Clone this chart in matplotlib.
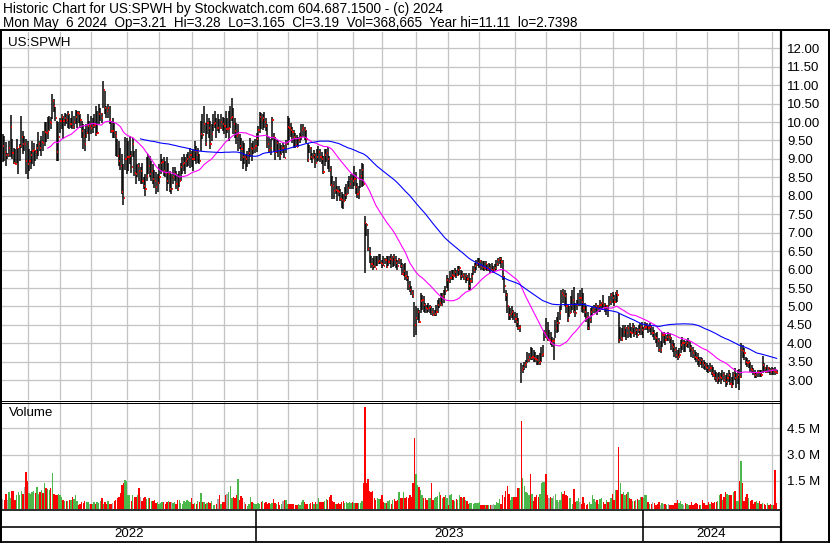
import numpy as np
import pandas as pd
import matplotlib
matplotlib.use("Agg")
import matplotlib.pyplot as plt
from matplotlib.transforms import blended_transform_factory, offset_copy

plt.rcParams['font.family'] = ['Liberation Sans', 'DejaVu Sans']

HOLIDAYS = ["2022-05-30", "2022-06-20", "2022-07-04", "2022-09-05", "2022-11-24", "2022-12-26",
            "2023-01-02", "2023-01-16", "2023-02-20", "2023-04-07", "2023-05-29", "2023-06-19",
            "2023-07-04", "2023-09-04", "2023-11-23", "2023-12-25", "2024-01-01", "2024-01-15",
            "2024-02-19", "2024-03-29"]

high = [
    # May 2022
    9.67, 9.62, 9.45, 9.17, 9.49, 10.19, 9.55, 9.31, 9.26, 9.53, 9.31, 9.40, 10.16, 9.76, 9.62, 9.53,
    # Jun 2022
    9.49, 9.26, 9.22, 9.49, 9.44, 9.24, 9.40, 9.72, 9.49, 9.62, 9.76, 9.99, 9.99, 10.13, 10.17, 10.13, 10.77, 10.63, 10.40, 10.04, 9.99,
    # Jul 2022
    10.12, 10.21, 10.16, 10.25, 10.21, 10.30, 10.21, 10.12, 10.30, 10.16, 10.34, 10.30, 10.30, 10.21, 10.03, 9.94, 9.80, 9.94, 10.21, 10.03,
    # Aug 2022
    10.16, 10.12, 10.21, 10.43, 10.30, 10.48, 10.39, 10.25, 11.11, 10.84, 10.43, 10.48, 10.43, 10.03, 10.12, 9.98, 9.76, 9.53, 9.49, 9.30, 9.13, 8.85, 9.60,
    # Sep 2022
    9.58, 9.49, 9.62, 9.22, 9.58, 9.22, 9.26, 8.86, 8.90, 8.77, 8.90, 8.50, 8.59, 9.04, 9.13, 9.08, 8.95, 8.86, 8.70, 8.65, 8.60,
    # Oct 2022
    8.86, 9.13, 8.99, 9.04, 8.95, 9.04, 8.90, 8.68, 8.59, 8.77, 8.77, 8.68, 8.59, 8.68, 8.90, 9.04, 9.13, 9.04, 9.13, 9.20, 9.30,
    # Nov 2022
    9.22, 9.26, 9.49, 9.35, 9.31, 9.13, 10.03, 10.21, 10.43, 9.98, 10.21, 10.12, 10.03, 9.94, 10.21, 10.30, 10.12, 10.21, 10.07, 10.21, 10.15,
    # Dec 2022
    10.12, 10.30, 10.12, 10.30, 10.43, 10.64, 10.39, 10.12, 9.98, 9.94, 9.67, 9.58, 9.49, 9.44, 9.13, 9.22, 9.31, 9.58, 9.44, 9.49, 9.53,
    # Jan 2023
    9.70, 9.90, 10.28, 10.25, 10.22, 10.28, 10.10, 9.95, 9.60, 9.55, 10.14, 9.69, 9.60, 9.51, 9.51, 9.42, 9.38, 9.42, 9.38, 9.51,
    # Feb 2023
    10.16, 10.10, 9.97, 9.87, 9.78, 9.69, 9.65, 9.60, 9.69, 9.94, 9.94, 9.87, 9.78, 9.42, 9.38, 9.33, 9.15, 9.25, 9.15,
    # Mar 2023
    9.27, 9.36, 9.27, 9.18, 9.09, 9.27, 9.27, 9.32, 9.09, 8.82, 8.55, 8.41, 8.50, 8.27, 8.27, 8.18, 8.09, 8.05, 8.23, 8.32, 8.41, 8.55, 8.59,
    # Apr 2023
    8.59, 8.82, 8.64, 8.36, 8.27, 8.73, 8.90, 8.86, 7.44, 7.27, 7.09, 6.60, 6.36, 6.32, 6.36, 6.36, 6.36, 6.41, 6.41,
    # May 2023
    6.27, 6.36, 6.32, 6.36, 6.36, 6.36, 6.41, 6.38, 6.41, 6.36, 6.27, 6.32, 6.28, 6.18, 6.14, 6.18, 5.95, 5.82, 5.68, 5.55, 5.45, 5.11,
    # Jun 2023
    5.00, 4.95, 4.91, 5.36, 5.32, 5.27, 5.09, 5.05, 5.09, 5.05, 5.00, 4.95, 4.91, 5.05, 5.18, 5.23, 5.36, 5.36, 5.45, 5.55, 5.86,
    # Jul 2023
    5.77, 5.95, 6.00, 6.00, 6.05, 6.00, 6.09, 6.09, 6.00, 5.95, 5.91, 5.91, 5.86, 5.91, 5.77, 5.91, 6.09, 6.18, 6.27, 6.32,
    # Aug 2023
    6.32, 6.27, 6.23, 6.23, 6.23, 6.14, 6.18, 6.14, 6.18, 6.09, 6.14, 6.25, 6.32, 6.35, 6.34, 6.27, 5.82, 5.45, 5.36, 5.00, 4.95, 5.00, 4.91,
    # Sep 2023
    4.86, 4.81, 4.68, 4.50, 3.46, 3.41, 3.50, 3.55, 3.77, 3.73, 3.91, 3.86, 3.82, 3.77, 3.68, 3.68, 3.73, 3.91, 3.95, 4.36,
    # Oct 2023
    4.68, 4.59, 4.36, 4.32, 4.18, 4.14, 4.63, 4.72, 4.86, 5.00, 5.45, 5.47, 5.45, 5.36, 5.04, 5.00, 5.27, 5.45, 5.52, 5.09, 5.18, 5.36,
    # Nov 2023
    5.45, 5.49, 5.36, 5.09, 5.00, 4.86, 4.72, 4.95, 5.00, 5.04, 5.09, 5.04, 5.04, 5.18, 5.13, 5.31, 5.09, 5.04, 5.00, 5.27, 5.36,
    # Dec 2023
    5.40, 5.31, 5.40, 5.45, 4.81, 4.45, 4.41, 4.50, 4.50, 4.45, 4.50, 4.54, 4.45, 4.54, 4.50, 4.45, 4.41, 4.50, 4.54, 4.59,
    # Jan 2024
    4.45, 4.59, 4.54, 4.50, 4.54, 4.50, 4.45, 4.36, 4.27, 4.32, 4.14, 4.05, 4.32, 4.32, 4.27, 4.23, 4.32, 4.27, 4.18, 4.09, 4.00,
    # Feb 2024
    3.91, 3.82, 3.86, 4.09, 4.18, 4.09, 4.05, 4.09, 4.14, 4.05, 3.95, 3.91, 3.82, 3.77, 3.73, 3.64, 3.64, 3.59, 3.55, 3.50,
    # Mar 2024
    3.46, 3.41, 3.46, 3.41, 3.37, 3.28, 3.23, 3.19, 3.23, 3.19, 3.28, 3.23, 3.14, 3.19, 3.28, 3.19, 3.09, 3.23, 3.32, 3.19,
    # Apr 2024
    3.28, 3.30, 4.00, 3.95, 3.86, 3.64, 3.59, 3.55, 3.50, 3.41, 3.32, 3.28, 3.23, 3.28, 3.28, 3.28, 3.66, 3.46, 3.37, 3.41, 3.37, 3.32,
    # May 2024
    3.37, 3.32, 3.35, 3.28,
]

low = [
    8.93, 8.95, 8.81, 8.99, 9.04, 9.04, 8.99, 8.86, 8.86, 8.90, 8.59, 8.95, 9.31, 9.13, 9.22, 8.60,
    8.45, 8.68, 8.72, 8.86, 8.81, 8.95, 8.99, 9.08, 9.22, 9.08, 9.22, 9.36, 9.45, 9.53, 9.76, 9.81, 10.08, 10.26, 10.04, 8.95, 8.95,
    9.71, 9.80, 9.53, 9.89, 9.94, 9.85, 9.80, 9.85, 9.80, 9.80, 9.94, 9.85, 9.98, 9.85, 9.58, 9.26, 9.22, 9.58, 9.67, 9.49,
    9.67, 9.71, 9.85, 9.62, 9.67, 9.94, 10.03, 9.98, 10.39, 10.21, 10.12, 10.12, 9.94, 9.71, 9.58, 9.58, 9.08, 9.04, 8.81, 8.70, 8.05, 7.76, 8.70,
    8.59, 8.68, 8.86, 8.63, 9.04, 8.54, 8.32, 8.50, 8.41, 8.32, 8.32, 8.18, 8.00, 8.41, 8.59, 8.50, 8.41, 8.32, 8.20, 8.05, 8.10,
    8.32, 8.59, 8.68, 8.54, 8.50, 8.14, 8.32, 8.10, 8.05, 8.32, 8.41, 8.18, 8.14, 8.23, 8.41, 8.59, 8.68, 8.59, 8.77, 8.80, 8.75,
    8.77, 8.68, 8.95, 8.86, 8.90, 8.86, 9.22, 9.53, 9.71, 9.35, 9.67, 9.58, 9.26, 9.49, 9.76, 9.85, 9.58, 9.76, 9.71, 9.80, 9.75,
    9.67, 9.58, 9.71, 9.49, 9.85, 10.03, 9.67, 9.58, 9.40, 9.22, 9.26, 8.95, 8.72, 8.86, 8.68, 8.77, 8.86, 9.04, 8.95, 9.13, 9.17,
    9.20, 9.35, 9.70, 9.80, 9.78, 9.85, 9.75, 9.30, 9.15, 9.10, 9.51, 9.20, 8.97, 9.15, 9.06, 8.97, 9.11, 9.15, 9.02, 9.15,
    9.38, 9.51, 9.60, 9.42, 9.29, 9.29, 9.33, 9.33, 9.42, 9.51, 9.60, 9.51, 9.42, 8.93, 9.15, 8.97, 8.88, 9.02, 8.75,
    8.91, 8.95, 8.91, 8.86, 8.59, 8.82, 8.91, 8.73, 8.64, 8.27, 7.91, 7.91, 8.05, 7.86, 8.00, 7.86, 7.68, 7.64, 7.86, 7.91, 8.05, 8.18, 8.18,
    8.18, 8.27, 8.05, 7.95, 7.91, 8.20, 8.23, 8.27, 5.91, 6.91, 6.50, 6.18, 6.05, 6.00, 6.05, 6.09, 6.10, 6.14, 6.14,
    6.05, 6.09, 6.14, 6.05, 6.09, 6.14, 6.05, 6.07, 6.09, 6.05, 6.00, 6.14, 6.05, 5.86, 5.82, 5.73, 5.68, 5.45, 5.40, 5.30, 5.22, 4.16,
    4.23, 4.64, 4.55, 4.82, 4.91, 4.86, 4.82, 4.82, 4.86, 4.82, 4.77, 4.73, 4.73, 4.73, 4.82, 4.95, 5.00, 5.00, 5.09, 5.32, 5.50,
    5.41, 5.64, 5.73, 5.73, 5.82, 5.77, 5.82, 5.86, 5.73, 5.77, 5.73, 5.64, 5.68, 5.45, 5.45, 5.64, 5.86, 5.91, 6.00, 6.09,
    6.05, 6.00, 6.00, 5.95, 6.00, 5.95, 5.95, 5.91, 5.95, 5.91, 5.95, 6.00, 6.10, 6.15, 6.05, 5.73, 5.36, 5.14, 4.82, 4.64, 4.64, 4.68, 4.64,
    4.55, 4.45, 4.36, 4.32, 2.93, 3.19, 3.28, 3.32, 3.46, 3.50, 3.55, 3.55, 3.50, 3.50, 3.41, 3.41, 3.41, 3.50, 3.64, 4.05,
    4.14, 4.05, 4.05, 3.95, 3.91, 3.55, 4.14, 4.27, 4.32, 4.63, 4.90, 5.09, 5.00, 4.81, 4.59, 4.72, 4.81, 4.90, 4.81, 4.72, 4.90, 5.00,
    5.00, 4.86, 4.81, 4.72, 4.59, 4.36, 4.36, 4.54, 4.77, 4.81, 4.81, 4.77, 4.86, 4.86, 4.90, 4.95, 4.86, 4.77, 4.72, 5.00, 5.04,
    5.09, 5.00, 5.09, 5.13, 4.00, 4.05, 4.05, 4.18, 4.18, 4.09, 4.14, 4.18, 4.14, 4.27, 4.18, 4.23, 4.14, 4.27, 4.23, 4.23,
    4.14, 4.36, 4.36, 4.27, 4.32, 4.23, 4.18, 4.09, 4.00, 3.91, 3.77, 3.73, 3.91, 4.00, 3.95, 4.05, 4.05, 4.00, 3.82, 3.77, 3.64,
    3.59, 3.55, 3.59, 3.73, 3.82, 3.77, 3.77, 3.91, 3.86, 3.77, 3.64, 3.59, 3.55, 3.50, 3.41, 3.37, 3.41, 3.32, 3.30, 3.28,
    3.23, 3.19, 3.23, 3.14, 3.09, 3.00, 2.96, 2.91, 2.96, 2.91, 3.00, 2.96, 2.82, 2.87, 2.96, 2.87, 2.78, 2.87, 3.00, 2.78,
    2.90, 2.74, 3.05, 3.59, 3.55, 3.41, 3.37, 3.32, 3.23, 3.19, 3.14, 3.05, 3.05, 3.09, 3.09, 3.09, 3.19, 3.23, 3.19, 3.19, 3.19, 3.14,
    3.14, 3.15, 3.15, 3.165,
]

close = [
    9.35, 9.20, 9.10, 9.10, 9.30, 9.86, 9.15, 8.90, 8.87, 9.30, 9.33, 9.35, 9.60, 9.40, 9.40, 8.95,
    8.85, 8.95, 9.10, 9.22, 9.24, 9.20, 9.31, 9.40, 9.31, 9.45, 9.42, 9.73, 9.70, 9.75, 10.00, 9.98, 10.57, 10.43, 10.10, 9.19, 9.60,
    10.03, 10.14, 10.03, 10.12, 10.05, 10.21, 9.94, 9.95, 9.87, 10.00, 10.15, 10.25, 10.23, 10.05, 9.75, 9.62, 9.40, 9.71, 9.89, 9.89,
    9.85, 9.90, 9.92, 9.67, 9.70, 10.21, 10.23, 10.10, 10.86, 10.39, 10.30, 10.39, 10.05, 9.76, 9.76, 9.70, 9.62, 9.08, 8.95, 8.80, 8.09, 7.94, 9.00,
    9.04, 9.05, 9.08, 8.77, 9.40, 8.63, 8.59, 8.81, 8.68, 8.68, 8.41, 8.27, 8.18, 8.54, 8.81, 8.59, 8.68, 8.45, 8.40, 8.25, 8.35,
    8.50, 8.90, 8.92, 8.68, 8.63, 8.41, 8.59, 8.18, 8.18, 8.50, 8.60, 8.32, 8.18, 8.41, 8.77, 8.86, 8.90, 8.95, 9.00, 9.05, 9.10,
    9.00, 8.99, 9.22, 9.10, 9.22, 8.95, 9.67, 9.65, 9.94, 9.40, 9.98, 9.85, 9.40, 9.67, 9.94, 9.98, 9.85, 9.85, 9.83, 10.00, 9.95,
    9.89, 9.80, 9.80, 9.85, 10.12, 10.14, 9.94, 9.76, 9.62, 9.67, 9.35, 9.26, 9.04, 9.04, 8.99, 9.10, 9.17, 9.31, 9.26, 9.30, 9.35,
    9.55, 9.78, 10.13, 10.05, 10.10, 10.00, 9.90, 9.40, 9.25, 9.30, 10.05, 9.60, 9.20, 9.42, 9.25, 9.11, 9.29, 9.29, 9.03, 9.40,
    9.87, 9.83, 9.78, 9.74, 9.60, 9.38, 9.33, 9.51, 9.60, 9.78, 9.83, 9.78, 9.55, 8.97, 9.29, 9.06, 9.02, 9.10, 8.90,
    9.05, 9.20, 9.05, 9.00, 8.64, 9.10, 9.15, 9.00, 8.70, 8.30, 8.27, 8.14, 8.16, 8.14, 8.10, 7.91, 7.89, 7.86, 8.02, 8.05, 8.20, 8.32, 8.45,
    8.40, 8.45, 8.25, 8.05, 8.10, 8.55, 8.70, 8.32, 7.25, 7.20, 6.55, 6.41, 6.14, 6.10, 6.08, 6.02, 6.20, 6.23, 6.18,
    6.14, 6.11, 6.27, 6.07, 6.20, 6.29, 6.27, 6.35, 6.27, 6.18, 6.10, 6.27, 6.10, 5.89, 5.95, 5.82, 5.77, 5.55, 5.45, 5.36, 5.28, 4.50,
    4.70, 4.85, 4.59, 5.15, 5.18, 5.05, 4.95, 4.92, 4.95, 4.98, 4.86, 4.77, 4.80, 4.86, 5.05, 5.10, 5.05, 5.27, 5.20, 5.41, 5.73,
    5.68, 5.77, 5.86, 5.82, 5.93, 5.86, 6.00, 6.05, 5.82, 5.86, 5.77, 5.82, 5.75, 5.55, 5.68, 5.82, 6.00, 6.09, 6.14, 6.18,
    6.23, 6.10, 6.07, 6.05, 6.14, 6.02, 6.05, 6.00, 6.00, 6.00, 6.05, 6.15, 6.27, 6.30, 6.20, 5.82, 5.56, 5.30, 5.00, 4.77, 4.80, 4.86, 4.77,
    4.65, 4.59, 4.41, 4.45, 3.28, 3.32, 3.41, 3.46, 3.55, 3.64, 3.59, 3.64, 3.59, 3.57, 3.55, 3.46, 3.48, 3.68, 3.70, 4.27,
    4.14, 4.09, 4.09, 4.00, 4.05, 4.05, 4.41, 4.54, 4.54, 4.81, 5.36, 5.31, 5.27, 5.00, 4.63, 4.81, 5.04, 5.18, 4.86, 4.81, 5.04, 5.22,
    5.22, 5.13, 4.95, 4.86, 4.72, 4.41, 4.63, 4.86, 4.90, 4.95, 5.00, 4.95, 5.00, 5.04, 5.09, 5.04, 4.95, 5.00, 4.90, 5.13, 5.31,
    5.22, 5.13, 5.36, 5.31, 4.09, 4.14, 4.09, 4.32, 4.41, 4.27, 4.41, 4.32, 4.27, 4.45, 4.27, 4.36, 4.23, 4.36, 4.45, 4.36,
    4.41, 4.45, 4.50, 4.41, 4.45, 4.27, 4.27, 4.18, 4.14, 4.05, 3.82, 3.82, 4.23, 4.23, 4.09, 4.18, 4.18, 4.14, 3.95, 3.91, 3.82,
    3.68, 3.64, 3.68, 3.95, 4.00, 4.00, 3.95, 4.00, 4.05, 3.86, 3.82, 3.73, 3.64, 3.59, 3.55, 3.46, 3.55, 3.46, 3.40, 3.35,
    3.32, 3.28, 3.32, 3.19, 3.14, 3.05, 3.00, 3.05, 3.09, 3.05, 3.14, 3.00, 2.96, 3.05, 3.14, 2.91, 2.85, 3.14, 3.05, 3.10,
    3.15, 3.10, 3.82, 3.80, 3.73, 3.50, 3.46, 3.48, 3.30, 3.28, 3.19, 3.14, 3.19, 3.23, 3.20, 3.14, 3.40, 3.32, 3.23, 3.32, 3.28, 3.23,
    3.28, 3.25, 3.21, 3.19,
]

# daily volume, millions of shares
volume = [
    0.56, 0.50, 0.88, 0.50, 0.98, 0.60, 1.02, 1.02, 0.50, 0.79, 0.98, 0.79, 1.02, 0.85, 1.27, 2.13,
    1.60, 0.94, 0.88, 0.98, 1.02, 0.94, 1.27, 0.83, 0.98, 1.08, 0.94, 1.46, 1.17, 1.13, 1.08, 1.17, 2.06, 0.88, 0.79, 0.79, 0.85,
    0.79, 0.69, 0.50, 0.44, 0.44, 0.44, 0.50, 0.50, 0.69, 0.56, 0.79, 0.44, 0.21, 0.31, 0.40, 0.37, 0.44, 0.40, 0.40, 0.31,
    0.29, 0.29, 0.40, 0.31, 0.40, 0.37, 0.44, 0.60, 0.31, 0.40, 0.29, 0.44, 0.29, 0.31, 0.37, 0.44, 0.54, 0.60, 0.69, 0.90, 1.37, 1.46, 1.65,
    1.60, 0.79, 0.79, 0.44, 0.79, 0.69, 0.69, 0.79, 1.17, 0.69, 0.48, 0.60, 0.69, 0.56, 0.60, 0.60, 0.44, 0.44, 0.50, 0.35, 0.40,
    0.31, 0.37, 0.40, 0.40, 0.31, 0.40, 0.44, 0.40, 0.40, 0.37, 0.40, 0.31, 0.50, 0.50, 0.37, 0.31, 0.44, 0.40, 0.50, 0.45, 0.40,
    0.63, 0.31, 0.37, 0.31, 0.44, 0.40, 0.90, 0.40, 0.40, 0.31, 0.37, 0.40, 0.37, 0.44, 0.21, 0.21, 0.31, 0.56, 0.79, 0.31, 0.40,
    0.40, 0.79, 0.88, 0.98, 1.31, 0.60, 0.69, 0.60, 0.79, 1.71, 0.50, 0.75, 0.60, 0.40, 0.31, 0.15, 0.31, 0.69, 0.40, 0.35, 0.31,
    0.31, 0.37, 0.31, 0.40, 0.44, 0.37, 0.40, 0.31, 0.37, 0.31, 0.37, 0.56, 0.37, 0.31, 0.40, 0.21, 0.31, 0.44, 0.50, 0.50,
    0.29, 0.29, 0.29, 0.29, 0.31, 0.21, 0.21, 0.31, 0.21, 0.40, 0.50, 0.40, 0.31, 0.31, 0.31, 0.37, 0.40, 0.31, 0.40,
    0.31, 0.60, 0.40, 0.40, 0.40, 0.44, 0.56, 0.50, 0.69, 0.79, 0.44, 0.40, 0.31, 0.31, 0.37, 0.31, 0.40, 0.44, 0.37, 0.40, 0.37, 0.40, 0.37,
    0.40, 0.37, 0.37, 0.37, 0.37, 0.37, 0.45, 1.46, 5.83, 1.46, 1.71, 1.02, 0.98, 1.02, 0.60, 0.50, 0.60, 0.56, 0.56,
    0.79, 0.40, 0.37, 0.37, 0.44, 0.50, 0.31, 0.50, 0.56, 0.44, 0.50, 0.98, 0.60, 0.60, 0.98, 0.60, 0.69, 0.60, 0.80, 0.70, 1.46, 4.06,
    1.98, 1.37, 1.27, 1.08, 0.79, 0.63, 0.60, 0.50, 0.60, 0.63, 1.46, 0.50, 0.60, 0.69, 0.75, 0.98, 0.79, 0.60, 0.69, 0.79,
    0.60, 0.21, 0.79, 0.88, 0.50, 0.44, 0.55, 0.50, 0.79, 0.69, 0.60, 0.69, 0.50, 0.44, 0.31, 0.37, 0.33, 0.31, 0.37, 0.37,
    0.37, 0.40, 0.21, 0.21, 0.21, 0.21, 0.21, 0.21, 0.23, 0.25, 0.31, 0.21, 0.40, 0.37, 0.56, 0.31, 0.79, 0.69, 1.00, 1.33,
    0.88, 0.50, 0.69, 0.69, 0.69, 0.69, 1.17, 1.21, 5.02,
    1.79, 1.33, 0.98, 0.94, 0.79, 2.00, 0.83, 0.44, 0.69, 0.79, 0.70, 0.83, 1.46, 1.52, 1.56, 2.00, 0.79, 0.63, 0.69, 0.60,
    0.75, 0.88, 0.50, 0.40, 0.50, 0.98, 0.88, 1.02, 0.79, 0.75, 0.65, 0.60, 0.31, 1.13, 0.40, 0.44, 0.60, 0.40, 0.31, 0.69,
    0.37, 0.25, 0.31, 0.40, 0.31, 0.79, 0.55, 0.40, 0.50, 0.31, 0.56, 0.60, 0.40, 0.31, 0.50, 0.40, 0.40, 0.60, 0.88, 0.50,
    1.08, 1.08, 3.52,
    1.46, 0.85, 0.98, 0.79, 0.83, 0.98, 0.60, 0.56, 0.44, 0.44, 0.50, 0.56, 0.50, 0.69, 0.69, 0.60, 0.79, 0.79, 0.40, 0.31,
    0.31, 0.40, 0.37, 0.21, 0.30, 0.40, 0.25, 0.37, 0.31, 0.31, 0.21, 0.31, 0.21, 0.21, 0.21, 0.37, 0.37, 0.50, 0.37, 0.44,
    0.31, 0.21, 0.37, 0.31, 0.21, 0.21, 0.40, 0.21, 0.31, 0.37, 0.30, 0.21, 0.21, 0.50, 0.37, 0.21, 0.21, 0.40, 0.31, 0.40,
    0.37, 0.40, 0.40, 0.44, 0.79, 0.88, 0.50, 0.69, 0.98, 0.85, 0.79, 0.79, 0.79, 0.98, 1.02, 0.44, 0.44, 1.60, 2.75,
    1.46, 0.44, 0.69, 0.88, 0.63, 0.44, 0.50, 0.31, 0.40, 0.44, 0.37, 0.44, 0.31, 0.35, 0.31, 0.21, 0.37, 0.25, 0.30, 0.21,
    0.21, 2.23, 0.37,
]

price_labels = ["3.00", "3.50", "4.00", "4.50", "5.00", "5.50", "6.00", "6.50", "7.00", "7.50",
                "8.00", "8.50", "9.00", "9.50", "10.00", "10.50", "11.00", "11.50", "12.00"]
volume_labels = ["1.5 M", "3.0 M", "4.5 M"]
header1 = "Historic Chart for US:SPWH by Stockwatch.com 604.687.1500 - (c) 2024"
header2 = "Mon May  6 2024  Op=3.21  Hi=3.28  Lo=3.165  Cl=3.19  Vol=368,665  Year hi=11.11  lo=2.7398"
symbol = "US:SPWH"

dates = pd.bdate_range("2022-05-09", "2024-05-06", freq="C", holidays=HOLIDAYS)
n = len(dates)
assert n == len(high) == len(low) == len(close) == len(volume), (n, len(high), len(low), len(close), len(volume))

x = np.arange(n)
hi = np.array(high); lo = np.array(low); cl = np.array(close); vol = np.array(volume)
ma_fast = pd.Series(cl).rolling(30).mean().values
ma_slow = pd.Series(cl).rolling(90).mean().values

months = np.array([d.month for d in dates])
years = np.array([d.year for d in dates])
month_starts = [i for i in range(1, n) if months[i] != months[i - 1]]
year_starts = [i for i in range(1, n) if years[i] != years[i - 1]]

W, H = 830, 543
fig = plt.figure(figsize=(W / 100, H / 100), dpi=100)
fig.patch.set_facecolor('white')

def box(l, t, r, b):
    return [l / W, 1 - b / H, (r - l) / W, (b - t) / H]

XL = (-0.5, 502.2)
GRID = '#c4c4c4'
PX = 0.72

# price panel
ax = fig.add_axes(box(2, 32, 780, 400))
ax.set_xlim(*XL)
ax.set_ylim(2.463, 12.442)
for v in np.arange(3.0, 12.01, 0.5):
    ax.axhline(v, color=GRID, lw=1.3 * PX, zorder=0)
for m in month_starts:
    ax.axvline(m, color=GRID, lw=1.3 * PX, zorder=0)
ax.vlines(x, lo, hi, color='black', lw=1.5 * PX, zorder=2)
ax.hlines(cl, x + 0.2, x + 0.95, color='#ff0000', lw=1.8 * PX, zorder=3)
ax.plot(x, ma_fast, color='#ff00ff', lw=1.1 * PX, zorder=4)
ax.plot(x, ma_slow, color='#0000ff', lw=1.1 * PX, zorder=4)
ax.axis('off')

# volume panel
axv = fig.add_axes(box(2, 402, 780, 509))
axv.set_xlim(*XL)
axv.set_ylim(-0.10, 6.0)
for v in [1.5, 3.0, 4.5]:
    axv.axhline(v, color=GRID, lw=1.3 * PX, zorder=0)
for m in month_starts:
    axv.axvline(m, color=GRID, lw=1.3 * PX, zorder=0)
diff = np.diff(cl, prepend=cl[0])
vcol = np.where(diff > 0, '#4cb84c', np.where(diff < 0, '#ff0000', '#aaaaaa'))
axv.bar(x, vol, width=0.9, bottom=-0.10, color=vcol, linewidth=0, zorder=2)
axv.axis('off')

# date band
axd = fig.add_axes(box(2, 510, 780, 541))
axd.set_xlim(*XL)
axd.set_ylim(0, 1)
bounds = [XL[0]] + [s - 0.5 for s in year_starts] + [XL[1]]
for s in year_starts:
    axd.axvline(s - 0.5, color='black', lw=1.6 * PX)
for k in range(len(bounds) - 1):
    yr = years[0] + k
    axd.text((bounds[k] + bounds[k + 1]) / 2, 0.24, str(yr), ha='center', va='center', fontsize=9.6)
axd.axis('off')

# overlay in pixel coordinates
ov = fig.add_axes([0, 0, 1, 1], zorder=10)
ov.set_xlim(0, W); ov.set_ylim(H, 0); ov.axis('off')
ov.patch.set_alpha(0)
def hline(y, x0, x1, w):
    ov.plot([x0, x1], [y, y], color='black', lw=w * PX, solid_capstyle='butt')
def vline(xx, y0, y1, w):
    ov.plot([xx, xx], [y0, y1], color='black', lw=w * PX, solid_capstyle='butt')
hline(30.2, 0, W, 2)
hline(400.5, 0, 781, 1)
hline(402.5, 0, 781, 1)
hline(509.8, 0, 781, 1.6)
hline(526.6, 0, 781, 1.6)
hline(541.5, 0, W, 1.8)
vline(1.0, 29, 543, 2)
vline(781.2, 29, 543, 2.2)
vline(828.5, 29, 543, 2)

ov.text(3, 8.5, header1, fontsize=9.85, va='center', ha='left')
ov.text(3, 22.5, header2, fontsize=9.75, va='center', ha='left')
ov.text(8, 42.5, symbol, fontsize=9.6, va='center', ha='left')
ov.text(9, 413, "Volume", fontsize=9.6, va='center', ha='left')

tr_p = offset_copy(blended_transform_factory(ov.transData, ax.transData), fig=fig, x=0, y=-1.5, units='dots')
for lab in price_labels:
    ov.text(787, float(lab), lab, transform=tr_p, fontsize=9.5, va='center', ha='left')
tr_v = offset_copy(blended_transform_factory(ov.transData, axv.transData), fig=fig, x=0, y=-1.5, units='dots')
for lab in volume_labels:
    ov.text(787, float(lab.split()[0]), lab, transform=tr_v, fontsize=9.5, va='center', ha='left')

fig.savefig("out.png", dpi=100, facecolor='white')
